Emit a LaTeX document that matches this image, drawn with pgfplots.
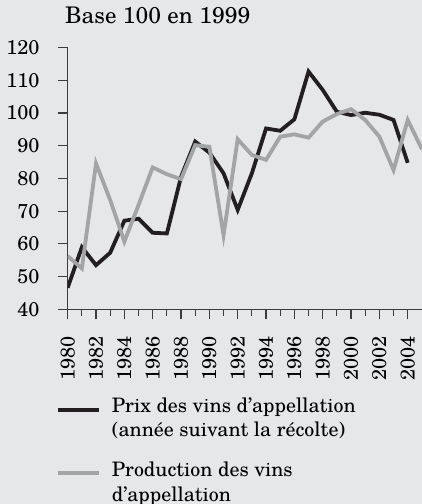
\documentclass[border=0pt]{standalone}
\usepackage{fontspec}
\setmainfont{texgyreschola-regular.otf}
\usepackage{pgfplots}
\pgfplotsset{compat=1.18}
\definecolor{fond}{HTML}{E6E7E9}
\definecolor{prix}{HTML}{231F20}
\definecolor{prod}{HTML}{A3A4A6}
\definecolor{axe}{HTML}{3C3C3C}

\begin{document}
\begin{tikzpicture}
\fill[fond] (-67.7bp,-194.7bp) rectangle (354.3bp,309.3bp);
\begin{axis}[
  at={(0,0)}, anchor=south west,
  x=14.167bp, y=3.27bp,
  xmin=1980, xmax=2005, ymin=40, ymax=120,
  axis lines*=left,
  axis line style={axe, line width=1.2bp},
  every tick/.style={axe, line width=1.2bp},
  tick align=outside,
  major tick length=10bp, minor tick length=6.5bp,
  xtick={1980,1982,...,2004},
  minor xtick={1981,1983,...,2003},
  ytick={40,50,...,120},
  font=\fontsize{20}{24.5}\selectfont,
  /pgf/number format/assume math mode=true,
  /pgf/number format/1000 sep={},
  xticklabel style={rotate=90, anchor=east, inner sep=0pt, xshift=-16.7bp},
  yticklabel style={anchor=east, inner sep=0pt, xshift=-18bp},
  title={Base 100 en 1999},
  title style={at={(0,1)}, anchor=base west, inner sep=0pt, xshift=-2.7bp, yshift=18.2bp,
    font=\fontsize{23}{26}\selectfont},
  line join=miter,
]
\addplot[prix, line width=3.8bp] coordinates {
  (1980,46.6)(1981,59.0)(1982,53.5)(1983,57.3)(1984,67.1)(1985,67.7)
  (1986,63.4)(1987,63.2)(1988,80.5)(1989,91.3)(1990,87.9)(1991,81.6)
  (1992,70.4)(1993,81.6)(1994,95.3)(1995,94.6)(1996,98.1)(1997,112.7)
  (1998,107.1)(1999,100.4)(2000,99.4)(2001,100.1)(2002,99.5)(2003,97.9)
  (2004,84.8)};
\addplot[prod, line width=3.8bp] coordinates {
  (1980,56.3)(1981,52.5)(1982,84.6)(1983,73.4)(1984,60.7)(1985,71.9)
  (1986,83.4)(1987,81.3)(1988,79.8)(1989,90.2)(1990,89.7)(1991,62.7)
  (1992,92.0)(1993,87.2)(1994,85.7)(1995,92.8)(1996,93.5)(1997,92.5)
  (1998,97.4)(1999,99.7)(2000,101.2)(2001,97.9)(2002,92.8)(2003,82.6)
  (2004,97.9)(2005,89.0)};
\end{axis}
% legend
\begin{scope}[font=\fontsize{20}{24.5}\selectfont, every node/.style={anchor=base west, inner sep=0pt}]
\draw[prix, line width=3.8bp] (-9.4bp,-100.7bp) -- (31.6bp,-100.7bp);
\node at (44bp,-103bp) {Prix des vins d'appellation};
\node at (44bp,-127.4bp) {(année suivant la récolte)};
\draw[prod, line width=3.8bp] (-9.4bp,-164bp) -- (31.6bp,-164bp);
\node at (44bp,-167.4bp) {Production des vins};
\node at (44bp,-191.7bp) {d’appellation};
\end{scope}
\pgfresetboundingbox
\path[use as bounding box] (-67.7bp,-194.7bp) rectangle (354.3bp,309.3bp);
\end{tikzpicture}
\end{document}
